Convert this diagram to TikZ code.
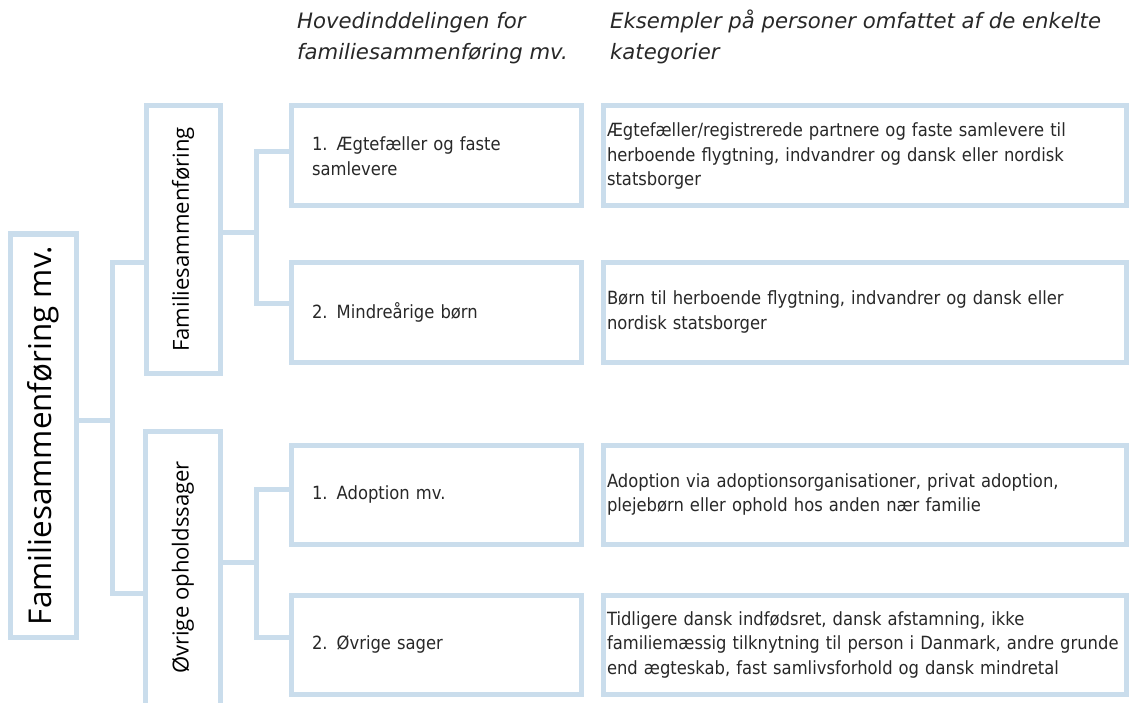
\documentclass[tikz,border=0pt]{standalone}
\usepackage{fontspec}
\setmainfont{DejaVu Sans}
\newfontfamily\bodyf{DejaVu Sans}[FakeStretch=0.9]
\newfontfamily\headf{DejaVu Sans}
\newfontfamily\labf{Open Sans}
\definecolor{boxblue}{RGB}{202,221,236}
\definecolor{txt}{RGB}{40,40,40}
\tikzset{
  boxline/.style={draw=boxblue, line width=5pt},
  conn/.style={draw=boxblue, line width=5pt, line cap=rect},
  vbox/.style={boxline, minimum width=#1, inner sep=0pt, text=black},
  leftbox/.style={boxline, minimum width=290pt, minimum height=#1, text width=248pt, inner xsep=21pt, inner ysep=0pt, align=left, text=txt, font=\bodyf\fontsize{18.2}{24.5}\selectfont},
  rightbox/.style={boxline, minimum width=523pt, minimum height=#1, text width=515pt, inner xsep=4pt, inner ysep=0pt, align=left, text=txt, font=\bodyf\fontsize{18.2}{24.5}\selectfont},
  headtext/.style={anchor=base west, align=left, inner sep=0pt, text=txt, font=\headf\itshape\fontsize{21.2}{31}\selectfont}
}
\begin{document}
\begin{tikzpicture}[x=1pt,y=-1pt]
\useasboundingbox (0,0) rectangle (1131,703);
\fill[white] (0,0) rectangle (1131,703);
\clip (0,0) rectangle (1131,703);

% headings
\node[headtext] (h1) at (297,60) {Hovedinddelingen for\\familiesammenføring mv.};
\node[headtext] (h2) at (610,60) {Eksempler på personer omfattet af de enkelte\\kategorier};

% vertical boxes
\node[vbox=66pt, minimum height=403pt] (main) at (43,435.5) {\rotatebox{90}{\labf\fontsize{31.4}{36}\selectfont Familiesammenføring mv.}};
\node[vbox=74pt, minimum height=267pt] (fam) at (183,239.5) {\rotatebox{90}{\labf\fontsize{22.1}{26}\selectfont Familiesammenføring}};
\node[minimum width=74pt, minimum height=271pt, inner sep=0pt] (ovr) at (183,567.5) {\rotatebox{90}{\labf\fontsize{22.1}{26}\selectfont Øvrige opholdssager}};
\draw[boxline] ([yshift=-12pt]ovr.south west) -- (ovr.north west) -- (ovr.north east) -- ([yshift=-12pt]ovr.south east);

% category boxes
\node[leftbox=100pt] (b1) at (436,156) {1. Ægtefæller og faste\\samlevere};
\node[leftbox=100pt] (b2) at (436,312) {2. Mindreårige børn};
\node[leftbox=99pt] (b3) at (436,494.5) {1. Adoption mv.};
\node[leftbox=99pt] (b4) at (436,644.5) {2. Øvrige sager};

% example boxes
\node[rightbox=100pt] (r1) at (864.5,156) {Ægtefæller/registrerede partnere og faste samlevere til\\herboende flygtning, indvandrer og dansk eller nordisk\\statsborger};
\node[rightbox=100pt] (r2) at (864.5,312) {Børn til herboende flygtning, indvandrer og dansk eller\\nordisk statsborger};
\node[rightbox=99pt] (r3) at (864.5,494.5) {Adoption via adoptionsorganisationer, privat adoption,\\plejebørn eller ophold hos anden nær familie};
\node[rightbox=99pt] (r4) at (864.5,644.5) {Tidligere dansk indfødsret, dansk afstamning, ikke\\familiemæssig tilknytning til person i Danmark, andre grunde\\end ægteskab, fast samlivsforhold og dansk mindretal};

% junctions
\coordinate (m) at (112,420);
\coordinate (mt) at (112,262);
\coordinate (mb) at (112,593);
\coordinate (f) at (256,233);
\coordinate (ft) at (256,152);
\coordinate (fb) at (256,303);
\coordinate (o) at (256,562);
\coordinate (ot) at (256,489);
\coordinate (ob) at (256,637);

% connectors
\draw[conn] (main.east |- m) -- (m);
\draw[conn] (fam.west |- mt) -- (mt) -- (mb) -- (ovr.west |- mb);
\draw[conn] (fam.east |- f) -- (f);
\draw[conn] (b1.west |- ft) -- (ft) -- (fb) -- (b2.west |- fb);
\draw[conn] (ovr.east |- o) -- (o);
\draw[conn] (b3.west |- ot) -- (ot) -- (ob) -- (b4.west |- ob);
\end{tikzpicture}
\end{document}
